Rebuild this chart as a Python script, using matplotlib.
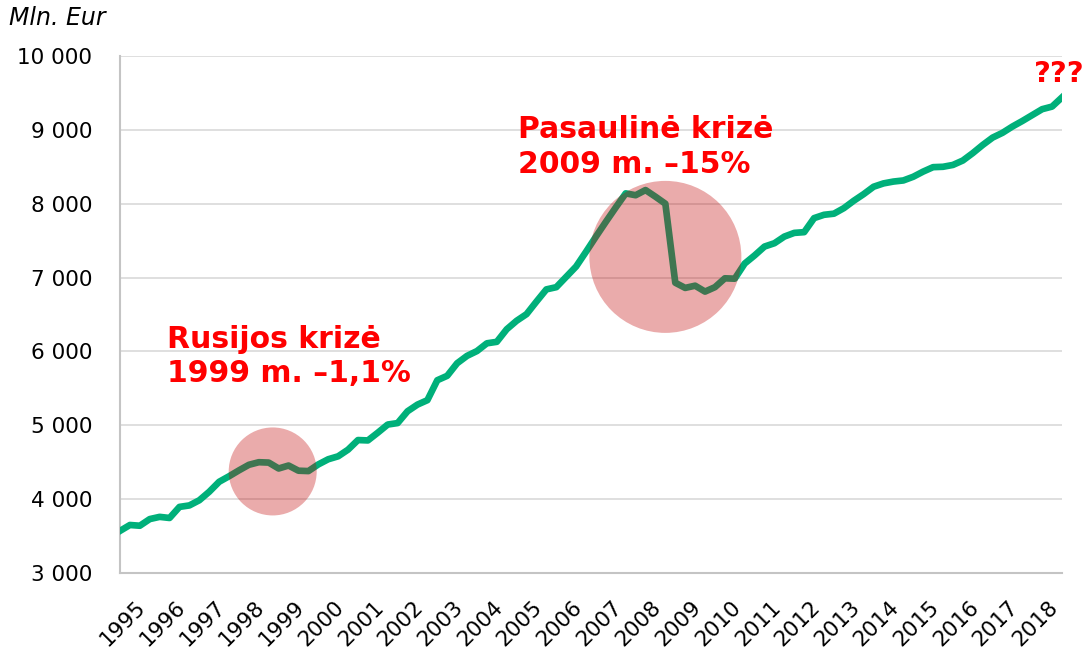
import matplotlib
matplotlib.use("Agg")
import matplotlib.pyplot as plt
import matplotlib.transforms as mtransforms
from matplotlib.patches import Ellipse
import numpy as np

# ketvirtiniai duomenys, 1995 Q1 - 2018 Q4, mln. Eur
years = list(range(1995, 2019))
values = [
    3570, 3650, 3640, 3730, 3760, 3745, 3895, 3915,
    3985, 4100, 4235, 4310, 4390, 4465, 4500, 4495,
    4415, 4455, 4385, 4380, 4470, 4540, 4580, 4670,
    4800, 4795, 4900, 5010, 5030, 5190, 5280, 5340,
    5610, 5670, 5840, 5940, 6005, 6110, 6130, 6300,
    6415, 6505, 6675, 6840, 6870, 7010, 7150, 7350,
    7555, 7755, 7950, 8140, 8115, 8185, 8095, 8000,
    6930, 6860, 6890, 6810, 6870, 6990, 6985, 7190,
    7300, 7420, 7465, 7555, 7605, 7615, 7805, 7850,
    7865, 7940, 8040, 8130, 8230, 8275, 8300, 8315,
    8365, 8435, 8495, 8500, 8525, 8585, 8685, 8795,
    8895, 8960, 9045, 9120, 9200, 9280, 9315, 9440,
]

# krizių žymos: centras (ketvirčio indeksas, reikšmė), spindulys pikseliais
crisis_labels = ["Rusijos krizė\n1999 m. –1,1%", "Pasaulinė krizė\n2009 m. –15%"]
crisis_center_q = [15.4, 55.0]
crisis_center_v = [4375, 7280]
crisis_radius_px = [44, 76]
crisis_text_q = [4.7, 40.1]
crisis_text_v = [5930, 8770]

W, H, DPI = 1088, 650, 100
fig = plt.figure(figsize=(W / DPI, H / DPI), dpi=DPI)
ax = fig.add_axes([120 / W, 1 - 573 / H, (1062 - 120) / W, (573 - 56) / H])

x = np.arange(len(values))
ax.plot(x, values, color="#00b07a", lw=4.8, solid_joinstyle="round", zorder=3)

ax.set_xlim(0, len(values) - 1)
ax.set_ylim(3000, 10000)
ax.set_yticks(range(3000, 10001, 1000))
ax.set_yticklabels([f"{v:,}".replace(",", " ") for v in range(3000, 10001, 1000)])
ax.yaxis.grid(True, color="#d9d9d9", lw=1.2, zorder=0)
ax.set_axisbelow(True)

xt = np.arange(3, len(values), 4)
ax.set_xticks(xt)
ax.set_xticklabels([str(y) for y in years], rotation=45, ha="right", va="top")
off = mtransforms.ScaledTranslation(6 / DPI, 3 / DPI, fig.dpi_scale_trans)
for lab in ax.get_xticklabels():
    lab.set_transform(lab.get_transform() + off)

ax.tick_params(axis="y", length=0, pad=20, labelsize=15.5)
ax.tick_params(axis="x", length=0, pad=17, labelsize=15.5)

for s in ["top", "right"]:
    ax.spines[s].set_visible(False)
for s in ["left", "bottom"]:
    ax.spines[s].set_color("#c4c4c4")
    ax.spines[s].set_linewidth(1.5)

# pikselio dydis duomenų vienetais
px_q = (len(values) - 1) / (1062 - 120)
px_v = 7000 / (573 - 56)
for cq, cv, r in zip(crisis_center_q, crisis_center_v, crisis_radius_px):
    ax.add_patch(Ellipse((cq, cv), 2 * r * px_q, 2 * r * px_v,
                         facecolor="#c00000", alpha=0.33, lw=0, zorder=4))

for lab, tq, tv in zip(crisis_labels, crisis_text_q, crisis_text_v):
    ax.text(tq, tv, lab, color="#ff0000", fontsize=21.5, fontweight="bold",
            ha="left", va="center", linespacing=1.25, zorder=5)

ax.text(1.0 - 3 / (1062 - 120), 9760, "???", color="#ff0000", fontsize=21,
        fontweight="bold", transform=ax.get_yaxis_transform(), ha="center",
        va="center", clip_on=False)

fig.text(9 / W, 1 - 18 / H, "Mln. Eur", fontsize=17, style="italic",
         ha="left", va="center")

fig.savefig("out.png", dpi=DPI)
